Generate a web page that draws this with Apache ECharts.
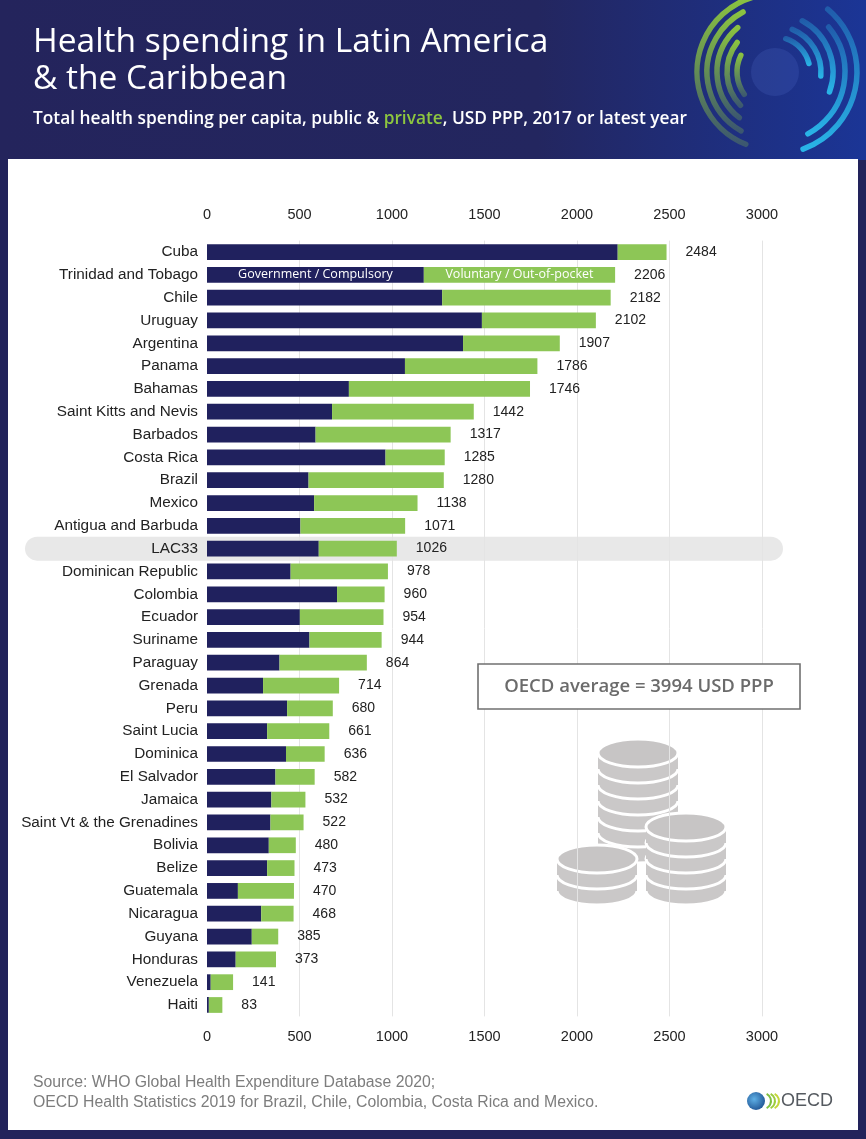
<!DOCTYPE html>
<html><head><meta charset="utf-8">
<script src="https://cdn.jsdelivr.net/npm/echarts@6/dist/echarts.min.js"></script>
<style>html,body{margin:0;padding:0;background:#22235b}#c{width:866px;height:1139px}</style>
</head><body><div id="c"></div>
<script>
const countries = ['Cuba','Trinidad and Tobago','Chile','Uruguay','Argentina','Panama','Bahamas','Saint Kitts and Nevis','Barbados','Costa Rica','Brazil','Mexico','Antigua and Barbuda','LAC33','Dominican Republic','Colombia','Ecuador','Suriname','Paraguay','Grenada','Peru','Saint Lucia','Dominica','El Salvador','Jamaica','Saint Vt & the Grenadines','Bolivia','Belize','Guatemala','Nicaragua','Guyana','Honduras','Venezuela','Haiti'];
const totalSpending = [2484,2206,2182,2102,1907,1786,1746,1442,1317,1285,1280,1138,1071,1026,978,960,954,944,864,714,680,661,636,582,532,522,480,473,470,468,385,373,141,83];
const governmentSpending = [2220,1172,1271,1486,1384,1070,767,676,587,965,549,579,505,604,452,703,502,554,392,303,433,325,427,370,348,343,334,325,167,293,242,155,20,10];
const xTicks = [0,500,1000,1500,2000,2500,3000];
const seriesNames = ['Government / Compulsory','Voluntary / Out-of-pocket'];
const highlightCategory = 'LAC33';
const labelledRow = 'Trinidad and Tobago';

const privateSpending = totalSpending.map((t,i)=>t-governmentSpending[i]);
const NAVY = '#20215e', GREEN = '#8dc656';
const SANS = "'Liberation Sans',Arial,sans-serif";
const OPEN = "'Open Sans','Noto Sans',sans-serif";
const lblIdx = countries.indexOf(labelledRow);

const chart = echarts.init(document.getElementById('c'), null, {renderer:'canvas'});

function arcEl(cx,cy,r,a0,a1,c0,c1,w){
  return {type:'arc', silent:true, z:-5,
    shape:{cx:cx,cy:cy,r:r,startAngle:a0*Math.PI/180,endAngle:a1*Math.PI/180,clockwise:true},
    style:{fill:null, lineWidth:w, lineCap:'round',
      stroke:{type:'linear',x:0,y:0,x2:0,y2:1,colorStops:[{offset:0,color:c0},{offset:1,color:c1}]}}};
}
function coinStack(cx, topY, n){
  const rx=40, ry=14, t=16, els=[];
  const yc0 = topY+ry;
  for(let k=n-1;k>=0;k--){
    const yc = yc0+k*t;
    els.push({type:'ellipse', silent:true, z:-3, shape:{cx:cx,cy:yc+t,rx:rx,ry:ry}, style:{fill:'#cac8c8',stroke:'#fff',lineWidth:3}});
    els.push({type:'rect', silent:true, z:-3, shape:{x:cx-rx,y:yc,width:2*rx,height:t}, style:{fill:'#cac8c8'}});
  }
  els.push({type:'ellipse', silent:true, z:-3, shape:{cx:cx,cy:yc0,rx:rx,ry:ry}, style:{fill:'#c7c5c5',stroke:'#fff',lineWidth:3}});
  return els;
}
function buildGraphic(pillY){
  const g = [];
  g.push({type:'rect', silent:true, z:-10, shape:{x:0,y:0,width:866,height:160},
    style:{fill:{type:'linear',x:0,y:0,x2:1,y2:0,colorStops:[{offset:0,color:'#24245c'},{offset:0.62,color:'#23265f'},{offset:1,color:'#1b3596'}]}}});
  g.push({type:'circle', silent:true, z:-6, shape:{cx:775,cy:72,r:24}, style:{fill:'rgba(120,160,255,0.12)'}});
  [[78,112,254],[68,120,242],[58,128,230],[48,136,218],[38,144,206]].forEach(a=>{
    g.push(arcEl(775,72,a[0],a[1],a[2],'rgba(141,198,63,1)','rgba(141,198,63,0.25)',5.5));
  });
  [[82,-50,70],[70,-40,62],[58,-62,20],[46,-68,5],[35,-72,-14]].forEach(a=>{
    g.push(arcEl(775,72,a[0],a[1],a[2],'rgba(41,182,232,0.3)','rgba(41,182,232,1)',5.5));
  });
  g.push({type:'rect', silent:true, z:-9, shape:{x:8,y:159,width:850,height:971}, style:{fill:'#ffffff'}});
  if(pillY!=null){
    g.push({type:'rect', silent:true, z:-4, shape:{x:25,y:pillY-12,width:758,height:24,r:12}, style:{fill:'#e8e8e8'}});
  }
  g.push({type:'rect', silent:true, z:5, shape:{x:478,y:664,width:322,height:45}, style:{fill:'#ffffff',stroke:'#707070',lineWidth:1.6}});
  g.push({type:'text', silent:true, z:6, style:{x:639,y:687,text:'OECD average = 3994 USD PPP',fill:'#6b6b6b',font:"600 18.5px "+OPEN,textAlign:'center',textVerticalAlign:'middle'}});
  coinStack(638,739,6).forEach(e=>g.push(e));
  coinStack(597,845,2).forEach(e=>g.push(e));
  coinStack(686,813,4).forEach(e=>g.push(e));
  g.push({type:'text', silent:true, z:6, style:{x:33,y:1083,text:'Source: WHO Global Health Expenditure Database 2020;',fill:'#7d7d7d',font:"15.8px "+SANS,textVerticalAlign:'middle'}});
  g.push({type:'text', silent:true, z:6, style:{x:33,y:1103,text:'OECD Health Statistics 2019 for Brazil, Chile, Colombia, Costa Rica and Mexico.',fill:'#7d7d7d',font:"15.8px "+SANS,textVerticalAlign:'middle'}});
  g.push({type:'circle', silent:true, z:6, shape:{cx:756,cy:1101,r:9},
    style:{fill:{type:'radial',x:0.4,y:0.4,r:0.7,colorStops:[{offset:0,color:'#5fb0e6'},{offset:1,color:'#1c4f8f'}]}}});
  g.push({type:'arc', silent:true, z:6, shape:{cx:763,cy:1101,r:8,startAngle:-1.1,endAngle:1.1}, style:{fill:null,stroke:'#7fbf3f',lineWidth:2}});
  g.push({type:'arc', silent:true, z:6, shape:{cx:767,cy:1101,r:8,startAngle:-1.1,endAngle:1.1}, style:{fill:null,stroke:'#9ccc3c',lineWidth:2}});
  g.push({type:'arc', silent:true, z:6, shape:{cx:771,cy:1101,r:8,startAngle:-1.1,endAngle:1.1}, style:{fill:null,stroke:'#c3d63a',lineWidth:2}});
  g.push({type:'text', silent:true, z:6, style:{x:781,y:1101,text:'OECD',fill:'#555a60',font:"18px "+SANS,textVerticalAlign:'middle'}});
  return g;
}

const axisLabelStyle = {color:'#222',fontSize:14.5,fontFamily:SANS,formatter:v=>String(v)};
const option = {
  animation:false,
  backgroundColor:'#22235b',
  title:{
    left:33, top:24, itemGap:11, padding:0,
    text:'Health spending in Latin America\n& the Caribbean',
    textStyle:{color:'#ffffff',fontSize:33.5,fontWeight:400,fontFamily:OPEN,lineHeight:37},
    subtext:'{a|Total health spending per capita, public & }{g|private}{a|, USD PPP, 2017 or latest year}',
    subtextStyle:{rich:{
      a:{color:'#ffffff',fontSize:17.3,fontWeight:600,fontFamily:OPEN,lineHeight:20},
      g:{color:'#8dc63f',fontSize:17.3,fontWeight:600,fontFamily:OPEN,lineHeight:20}}}
  },
  grid:{left:207,right:104,top:240.6,bottom:122.6,containLabel:false},
  xAxis:[
    {type:'value',position:'top',min:0,max:3000,interval:500,
     axisLine:{show:false},axisTick:{show:false},
     axisLabel:Object.assign({margin:18},axisLabelStyle),
     splitLine:{show:true,showMinLine:false,lineStyle:{color:'#e4e4e4',width:1}}},
    {type:'value',position:'bottom',min:0,max:3000,interval:500,
     axisLine:{show:false},axisTick:{show:false},
     axisLabel:Object.assign({margin:13},axisLabelStyle),
     splitLine:{show:false}}
  ],
  yAxis:{type:'category',data:countries,inverse:true,
    axisLine:{show:false},axisTick:{show:false},
    axisLabel:{color:'#222',fontSize:15.3,fontFamily:SANS,margin:9}},
  series:[
    {name:'Total',type:'bar',xAxisIndex:0,data:totalSpending,silent:true,z:1,
     barGap:'-100%',barCategoryGap:'31%',
     itemStyle:{color:'rgba(0,0,0,0)'},
     label:{show:true,position:'right',distance:19,color:'#222',fontSize:14,fontFamily:SANS}},
    {name:seriesNames[0],type:'bar',stack:'spend',xAxisIndex:0,barCategoryGap:'31%',z:2,
     itemStyle:{color:NAVY},
     data:governmentSpending.map((v,i)=> i===lblIdx ? {value:v,label:{show:true,position:'inside',formatter:seriesNames[0],color:'#fff',fontSize:12.5,fontWeight:500,fontFamily:OPEN}} : v)},
    {name:seriesNames[1],type:'bar',stack:'spend',xAxisIndex:0,barCategoryGap:'31%',z:2,
     itemStyle:{color:GREEN},
     data:privateSpending.map((v,i)=> i===lblIdx ? {value:v,label:{show:true,position:'inside',formatter:seriesNames[1],color:'#fff',fontSize:12.5,fontWeight:500,fontFamily:OPEN}} : v)}
  ],
  graphic:buildGraphic(null)
};
chart.setOption(option);
const pillY = chart.convertToPixel({yAxisIndex:0}, highlightCategory);
option.graphic = buildGraphic(pillY);
chart.setOption(option, true);
</script></body></html>
